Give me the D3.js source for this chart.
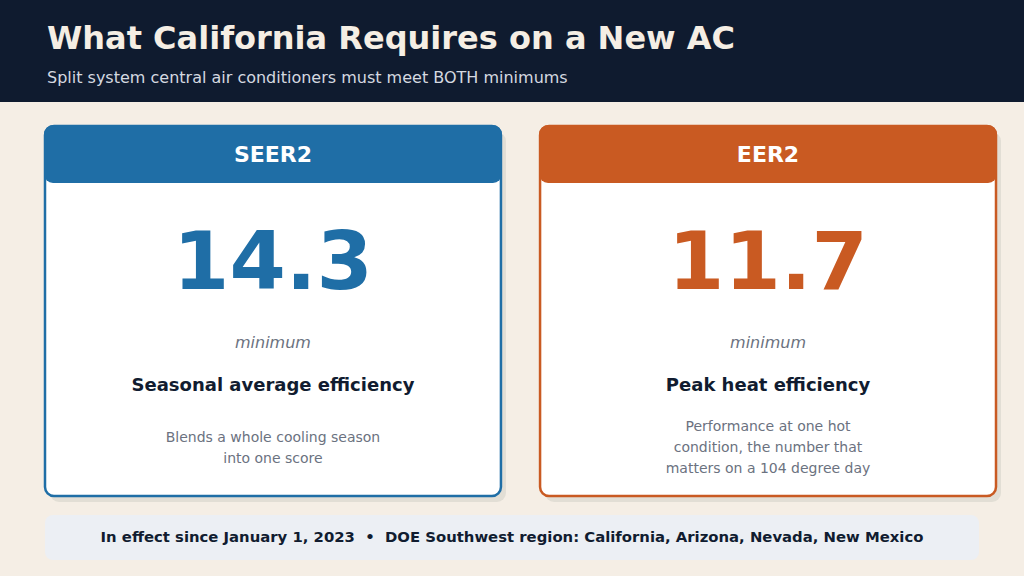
<!DOCTYPE html>
<html>
<head>
<meta charset="utf-8">
<script src="https://cdn.jsdelivr.net/npm/d3@7.9.0/dist/d3.min.js"></script>
<style>
  html, body { margin: 0; padding: 0; background: #f5eee5; }
  svg { display: block; font-family: "DejaVu Sans", sans-serif; }
</style>
</head>
<body>
<svg id="chart"></svg>
<script>
const title = 'What California Requires on a New AC';
const subtitle = 'Split system central air conditioners must meet BOTH minimums';
const metrics = ['SEER2', 'EER2'];
const minimums = [14.3, 11.7];
const headlines = ['Seasonal average efficiency', 'Peak heat efficiency'];
const descriptions = [
  ['Blends a whole cooling season', 'into one score'],
  ['Performance at one hot', 'condition, the number that', 'matters on a 104 degree day']
];
const colors = ['#1f6ea6', '#c95a22'];
const footer = 'In effect since January 1, 2023  \u2022  DOE Southwest region: California, Arizona, Nevada, New Mexico';

const W = 1024, H = 576;
const svg = d3.select('#chart').attr('width', W).attr('height', H);

svg.append('rect').attr('width', W).attr('height', H).attr('fill', '#f5eee5');

// header band
svg.append('rect').attr('width', W).attr('height', 102).attr('fill', '#0f1b2f');
svg.append('text').attr('x', 47).attr('y', 49)
  .attr('font-size', 32).attr('font-weight', 'bold').attr('fill', '#f5eee4')
  .text(title);
svg.append('text').attr('x', 47).attr('y', 83)
  .attr('font-size', 16).attr('fill', '#d5d9e0')
  .text(subtitle);

// cards
const x = d3.scaleBand().domain(metrics).range([45, 996]).paddingInner(0.079);
const cardTop = 126, cardH = 370, headH = 57;

const card = svg.selectAll('g.card').data(metrics).join('g')
  .attr('class', 'card')
  .attr('transform', d => `translate(${x(d)},${cardTop})`);

card.append('rect')
  .attr('x', 5).attr('y', 6).attr('width', x.bandwidth()).attr('height', cardH)
  .attr('rx', 9).attr('fill', '#e2ded5');
card.append('rect')
  .attr('width', x.bandwidth()).attr('height', cardH)
  .attr('rx', 9).attr('fill', '#fff')
  .attr('stroke', (d, i) => colors[i]).attr('stroke-width', 2.5);
card.append('rect')
  .attr('x', -1).attr('y', -1).attr('width', x.bandwidth() + 2).attr('height', headH + 1)
  .attr('rx', 9).attr('fill', (d, i) => colors[i]);
card.append('text')
  .attr('x', x.bandwidth() / 2).attr('y', 36)
  .attr('text-anchor', 'middle').attr('font-size', 22).attr('font-weight', 'bold')
  .attr('fill', '#fff').text(d => d);

card.append('text')
  .attr('x', x.bandwidth() / 2).attr('y', 163)
  .attr('text-anchor', 'middle').attr('font-size', 81).attr('font-weight', 'bold')
  .attr('fill', (d, i) => colors[i]).text((d, i) => minimums[i].toFixed(1));

card.append('text')
  .attr('x', x.bandwidth() / 2).attr('y', 222)
  .attr('text-anchor', 'middle').attr('font-size', 16).attr('font-style', 'italic')
  .attr('fill', '#6b7280').text('minimum');

card.append('text')
  .attr('x', x.bandwidth() / 2).attr('y', 265)
  .attr('text-anchor', 'middle').attr('font-size', 18).attr('font-weight', 'bold')
  .attr('fill', '#111c30').text((d, i) => headlines[i]);

card.each(function (d, i) {
  const lines = descriptions[i];
  const lh = 21;
  const y0 = 326 - (lines.length - 1) * lh / 2;
  d3.select(this).append('text')
    .attr('text-anchor', 'middle').attr('font-size', 14).attr('fill', '#6b7280')
    .selectAll('tspan').data(lines).join('tspan')
    .attr('x', x.bandwidth() / 2).attr('y', (l, j) => y0 + j * lh)
    .text(l => l);
});

// footer strip
svg.append('rect').attr('x', 45).attr('y', 515).attr('width', 934).attr('height', 45)
  .attr('rx', 8).attr('fill', '#eceff4');
svg.append('text').attr('x', 512).attr('y', 542)
  .attr('text-anchor', 'middle').attr('font-size', 14.85).attr('font-weight', 'bold')
  .attr('fill', '#111c30').attr('xml:space', 'preserve').style('white-space', 'pre')
  .text(footer);
</script>
</body>
</html>
